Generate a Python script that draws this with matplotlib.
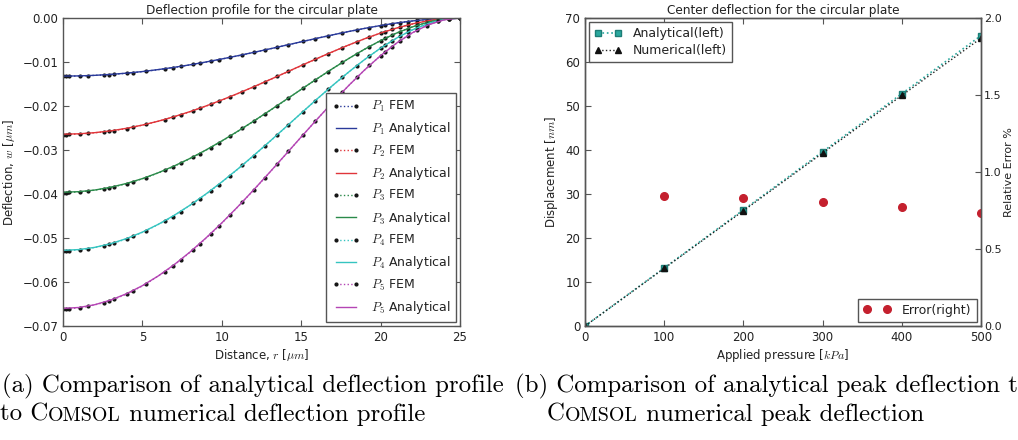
import matplotlib
matplotlib.use("Agg")
import matplotlib.pyplot as plt

plt.rcParams['mathtext.fontset'] = 'cm'
plt.rcParams['font.family'] = ['DejaVu Sans']

# ---------------- data: left panel ----------------
r_analytical = [0, 1, 2, 3, 4, 5, 6, 7, 8, 9, 10, 11, 12, 13, 14, 15, 16, 17, 18, 19, 20, 21, 22, 23, 24, 25]
w1_analytical = [-0.01320, -0.01316, -0.01303, -0.01282, -0.01253, -0.01217, -0.01172, -0.01121, -0.01064, -0.01000,
                 -0.00931, -0.00858, -0.00782, -0.00703, -0.00622, -0.00541, -0.00460, -0.00382, -0.00306, -0.00236,
                 -0.00171, -0.00114, -0.00067, -0.00031, -0.00008, 0.0]
w2_analytical = [-0.02640, -0.02632, -0.02606, -0.02565, -0.02507, -0.02433, -0.02345, -0.02242, -0.02127, -0.02000,
                 -0.01863, -0.01717, -0.01564, -0.01405, -0.01244, -0.01081, -0.00920, -0.00763, -0.00612, -0.00471,
                 -0.00342, -0.00229, -0.00134, -0.00062, -0.00016, 0.0]
w3_analytical = [-0.03960, -0.03947, -0.03910, -0.03847, -0.03760, -0.03650, -0.03517, -0.03363, -0.03191, -0.03000,
                 -0.02794, -0.02575, -0.02345, -0.02108, -0.01866, -0.01622, -0.01380, -0.01145, -0.00919, -0.00707,
                 -0.00513, -0.00343, -0.00202, -0.00093, -0.00024, 0.0]
w4_analytical = [-0.05280, -0.05263, -0.05213, -0.05129, -0.05013, -0.04866, -0.04689, -0.04485, -0.04254, -0.04000,
                 -0.03726, -0.03434, -0.03127, -0.02811, -0.02488, -0.02163, -0.01840, -0.01526, -0.01225, -0.00942,
                 -0.00684, -0.00458, -0.00269, -0.00125, -0.00032, 0.0]
w5_analytical = [-0.06600, -0.06579, -0.06516, -0.06411, -0.06266, -0.06083, -0.05862, -0.05606, -0.05318, -0.05000,
                 -0.04657, -0.04292, -0.03909, -0.03513, -0.03110, -0.02703, -0.02301, -0.01908, -0.01531, -0.01178,
                 -0.00855, -0.00572, -0.00336, -0.00156, -0.00041, 0.0]

r_fem = [0.0, 0.2, 0.4, 1.1, 1.6, 2.6, 2.9, 3.2, 4.0, 4.4, 5.2, 6.4, 6.9, 7.4, 8.2, 8.6, 9.3, 9.8, 10.5, 11.3,
         12.0, 12.7, 13.5, 14.2, 15.1, 15.9, 16.7, 17.6, 18.5, 19.3, 20.0, 20.3, 20.7, 21.2, 21.7, 22.3, 22.9, 23.6, 24.3, 25.0]
w1_fem = [-0.01325, -0.01324, -0.01322, -0.01317, -0.01310, -0.01295, -0.01286, -0.01279, -0.01256, -0.01241,
          -0.01212, -0.01155, -0.01128, -0.01101, -0.01053, -0.01028, -0.00982, -0.00947, -0.00897, -0.00838,
          -0.00784, -0.00728, -0.00664, -0.00607, -0.00534, -0.00469, -0.00406, -0.00337, -0.00271, -0.00216,
          -0.00172, -0.00154, -0.00131, -0.00105, -0.00081, -0.00056, -0.00035, -0.00016, -0.00004, 0.0]
w2_fem = [-0.02650, -0.02648, -0.02645, -0.02634, -0.02621, -0.02590, -0.02573, -0.02557, -0.02512, -0.02482,
          -0.02420, -0.02310, -0.02256, -0.02202, -0.02106, -0.02055, -0.01963, -0.01894, -0.01793, -0.01674,
          -0.01566, -0.01456, -0.01328, -0.01214, -0.01068, -0.00938, -0.00811, -0.00673, -0.00542, -0.00432,
          -0.00343, -0.00307, -0.00261, -0.00209, -0.00161, -0.00111, -0.00069, -0.00031, -0.00008, 0.0]
w3_fem = [-0.03968, -0.03966, -0.03964, -0.03950, -0.03932, -0.03880, -0.03859, -0.03836, -0.03766, -0.03723,
          -0.03630, -0.03464, -0.03385, -0.03302, -0.03158, -0.03083, -0.02944, -0.02840, -0.02690, -0.02510,
          -0.02349, -0.02183, -0.01990, -0.01820, -0.01600, -0.01407, -0.01216, -0.01009, -0.00812, -0.00648,
          -0.00514, -0.00461, -0.00392, -0.00313, -0.00241, -0.00166, -0.00103, -0.00047, -0.00012, 0.0]
w4_fem = [-0.05290, -0.05288, -0.05285, -0.05266, -0.05243, -0.05173, -0.05145, -0.05115, -0.05020, -0.04965,
          -0.04840, -0.04618, -0.04513, -0.04402, -0.04211, -0.04110, -0.03925, -0.03787, -0.03586, -0.03347,
          -0.03131, -0.02910, -0.02653, -0.02425, -0.02133, -0.01875, -0.01621, -0.01345, -0.01082, -0.00863,
          -0.00685, -0.00614, -0.00523, -0.00417, -0.00322, -0.00221, -0.00137, -0.00063, -0.00016, 0.0]
w5_fem = [-0.06612, -0.06610, -0.06607, -0.06583, -0.06554, -0.06466, -0.06431, -0.06393, -0.06275, -0.06206,
          -0.06049, -0.05771, -0.05640, -0.05502, -0.05263, -0.05137, -0.04906, -0.04733, -0.04482, -0.04183,
          -0.03913, -0.03637, -0.03315, -0.03031, -0.02665, -0.02342, -0.02026, -0.01680, -0.01352, -0.01078,
          -0.00856, -0.00767, -0.00653, -0.00521, -0.00402, -0.00276, -0.00171, -0.00078, -0.00020, 0.0]

series_names = ['$P_1$', '$P_2$', '$P_3$', '$P_4$', '$P_5$']
analytical_series = [w1_analytical, w2_analytical, w3_analytical, w4_analytical, w5_analytical]
fem_series = [w1_fem, w2_fem, w3_fem, w4_fem, w5_fem]
series_colors = ['#2a3a9a', '#e0353a', '#2a8a4a', '#35c4c0', '#b445b4']

# ---------------- data: right panel ----------------
pressure = [0, 100, 200, 300, 400, 500]
disp_analytical = [0.0, 13.2, 26.4, 39.6, 52.8, 66.0]
disp_numerical = [0.0, 13.1, 26.2, 39.3, 52.4, 65.4]
pressure_err = [100, 200, 300, 400, 500]
rel_error = [0.846, 0.831, 0.805, 0.773, 0.732]

TEXT = '#222222'
SPINE = '#555555'
TICK_SIZE = 8.5
LABEL_SIZE = 8.5
TITLE_SIZE = 8.7

W, H = 1018, 440
fig = plt.figure(figsize=(W / 100, H / 100), dpi=100)
fig.patch.set_facecolor('white')


def style_axes(ax):
    for s in ax.spines.values():
        s.set_color(SPINE)
        s.set_linewidth(1.0)
    ax.tick_params(direction='in', length=4, width=0.8, color=SPINE,
                   labelsize=TICK_SIZE, labelcolor=TEXT)


# ---------------- left panel ----------------
ax1 = fig.add_axes([63 / W, 1 - 326 / H, (460 - 63) / W, (326 - 18) / H])
style_axes(ax1)
ax1.tick_params(top=True, right=True)
for name, wa, wf, c in zip(series_names, analytical_series, fem_series, series_colors):
    ax1.plot(r_fem, wf, linestyle=':', color=c, lw=1.0, marker='.', ms=4,
             mfc='#151515', mec='#151515', label=name + ' FEM')
    ax1.plot(r_analytical, wa, '-', color=c, lw=1.0, label=name + ' Analytical')
ax1.set_xlim(0, 25)
ax1.set_ylim(-0.07, 0.0)
ax1.set_xticks([0, 5, 10, 15, 20, 25])
ax1.set_yticks([-0.07, -0.06, -0.05, -0.04, -0.03, -0.02, -0.01, 0.0])
ax1.set_yticklabels(['\u22120.07', '\u22120.06', '\u22120.05', '\u22120.04',
                     '\u22120.03', '\u22120.02', '\u22120.01', '0.00'])
ax1.set_title('Deflection profile for the circular plate', fontsize=TITLE_SIZE, color=TEXT, pad=3)
ax1.set_xlabel(r'Distance, $r$ [$\mu m$]', fontsize=LABEL_SIZE, color=TEXT, labelpad=2)
ax1.set_ylabel(r'Deflection, $w$ [$\mu m$]', fontsize=LABEL_SIZE, color=TEXT, labelpad=4)
leg1 = ax1.legend(loc='lower right', fontsize=9, numpoints=2, fancybox=False,
                  edgecolor=SPINE, framealpha=1, borderaxespad=0.35,
                  labelspacing=0.5, handlelength=2.2, handletextpad=0.9, borderpad=0.45)
leg1.get_frame().set_linewidth(1.0)
for t in leg1.get_texts():
    t.set_color(TEXT)

# ---------------- right panel ----------------
ax2 = fig.add_axes([585 / W, 1 - 326 / H, (981 - 585) / W, (326 - 18) / H])
style_axes(ax2)
ax2.tick_params(top=True)
ax2.plot(pressure, disp_analytical, linestyle=':', color='#2aa89e', lw=1.2, marker='s',
         ms=5, mfc='#2aa89e', mec='#1d7d76', label='Analytical(left)')
ax2.plot(pressure, disp_numerical, linestyle=':', color='#222222', lw=1.0, marker='^',
         ms=5, mfc='#111111', mec='#111111', label='Numerical(left)')
ax2.set_xlim(0, 500)
ax2.set_ylim(0, 70)
ax2.set_xticks([0, 100, 200, 300, 400, 500])
ax2.set_yticks([0, 10, 20, 30, 40, 50, 60, 70])
ax2.set_title('Center deflection for the circular plate', fontsize=TITLE_SIZE, color=TEXT, pad=3)
ax2.set_xlabel(r'Applied pressure [$kPa$]', fontsize=LABEL_SIZE, color=TEXT, labelpad=2)
ax2.set_ylabel(r'Displacement [$nm$]', fontsize=LABEL_SIZE, color=TEXT, labelpad=4)
leg2 = ax2.legend(loc='upper left', fontsize=9, numpoints=2, fancybox=False,
                  edgecolor=SPINE, framealpha=1, borderaxespad=0.35,
                  labelspacing=0.3, handlelength=2.2, handletextpad=0.9, borderpad=0.4)
leg2.get_frame().set_linewidth(1.0)
for t in leg2.get_texts():
    t.set_color(TEXT)

ax3 = ax2.twinx()
style_axes(ax3)
ax3.tick_params(axis='y', pad=2, labelsize=8)
ax3.plot(pressure_err, rel_error, linestyle='none', marker='o', ms=5.5,
         mfc='#c4202e', mec='#c4202e', label='Error(right)')
ax3.set_ylim(0, 2.0)
ax3.set_yticks([0.0, 0.5, 1.0, 1.5, 2.0])
ax3.set_ylabel('Relative Error %', fontsize=8, color=TEXT, labelpad=2)
leg3 = ax3.legend(loc='lower right', fontsize=9, numpoints=2, fancybox=False,
                  edgecolor=SPINE, framealpha=1, borderaxespad=0.35,
                  handlelength=2.2, handletextpad=0.9, borderpad=0.4)
leg3.get_frame().set_linewidth(1.0)
for t in leg3.get_texts():
    t.set_color(TEXT)

# ---------------- captions ----------------
CAP_FONT = 'cmr10'
CAP_SIZE = 17.9
renderer = fig.canvas.get_renderer()


def place_runs(x_px, base_px_from_top, runs):
    x = x_px
    y = (H - base_px_from_top) / H
    for text, scale in runs:
        t = fig.text(x / W, y, text, fontsize=CAP_SIZE * scale, family=CAP_FONT,
                     va='baseline', ha='left', color='black')
        bb = t.get_window_extent(renderer)
        x = bb.x1


place_runs(2, 392, [('(a) Comparison of analytical deflection profile', 1.0)])
place_runs(0, 420.5, [('to C', 1.0), ('OMSOL', 0.8), (' numerical deflection profile', 1.0)])
place_runs(515, 392, [('(b) Comparison of analytical peak deflection to', 1.0)])
place_runs(547, 420.5, [('C', 1.0), ('OMSOL', 0.8), (' numerical peak deflection', 1.0)])

fig.savefig('out.png', dpi=100, facecolor='white')
